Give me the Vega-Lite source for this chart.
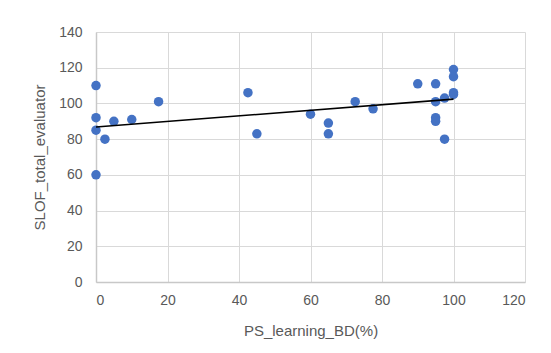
{
  "$schema": "https://vega.github.io/schema/vega-lite/v6.json",
  "width": 429,
  "height": 250,
  "autosize": {"type": "none"},
  "padding": {"left": 96, "top": 32, "right": 26, "bottom": 71},
  "background": "white",
  "config": {
    "view": {"stroke": null},
    "font": "Liberation Sans",
    "axis": {
      "labelColor": "#595959",
      "titleColor": "#595959",
      "labelFontSize": 14,
      "titleFontSize": 15,
      "titleFontWeight": "normal",
      "labelFont": "Liberation Sans",
      "titleFont": "Liberation Sans",
      "gridColor": "#d9d9d9",
      "gridWidth": 1,
      "domainColor": "#c8c8c8",
      "domainWidth": 1.5,
      "ticks": false
    }
  },
  "data": {
    "values": [
      {"ps": 0, "slof": 110}, {"ps": 0, "slof": 92}, {"ps": 0, "slof": 85}, {"ps": 0, "slof": 60},
      {"ps": 2.5, "slof": 80}, {"ps": 5, "slof": 90}, {"ps": 10, "slof": 91}, {"ps": 17.5, "slof": 101},
      {"ps": 42.5, "slof": 106}, {"ps": 45, "slof": 83}, {"ps": 60, "slof": 94}, {"ps": 65, "slof": 89},
      {"ps": 65, "slof": 83}, {"ps": 72.5, "slof": 101}, {"ps": 77.5, "slof": 97}, {"ps": 90, "slof": 111},
      {"ps": 95, "slof": 111}, {"ps": 95, "slof": 101}, {"ps": 95, "slof": 92}, {"ps": 95, "slof": 90},
      {"ps": 97.5, "slof": 103}, {"ps": 97.5, "slof": 80}, {"ps": 100, "slof": 119}, {"ps": 100, "slof": 115},
      {"ps": 100, "slof": 106}, {"ps": 100, "slof": 105}
    ]
  },
  "encoding": {
    "x": {
      "field": "ps", "type": "quantitative",
      "scale": {"domain": [0, 120], "nice": false},
      "axis": {"values": [0, 20, 40, 60, 80, 100, 120], "title": "PS_learning_BD(%)", "labelPadding": 11, "titlePadding": 16, "grid": true}
    },
    "y": {
      "field": "slof", "type": "quantitative",
      "scale": {"domain": [0, 140], "nice": false},
      "axis": {"values": [0, 20, 40, 60, 80, 100, 120, 140], "title": "SLOF_total_evaluator", "labelPadding": 14, "titlePadding": 11, "grid": true}
    }
  },
  "layer": [
    {
      "mark": {"type": "point", "filled": true, "size": 90, "color": "#4472C4", "opacity": 1}
    },
    {
      "transform": [{"regression": "slof", "on": "ps"}],
      "mark": {"type": "line", "color": "#000000", "strokeWidth": 1.6}
    }
  ]
}
